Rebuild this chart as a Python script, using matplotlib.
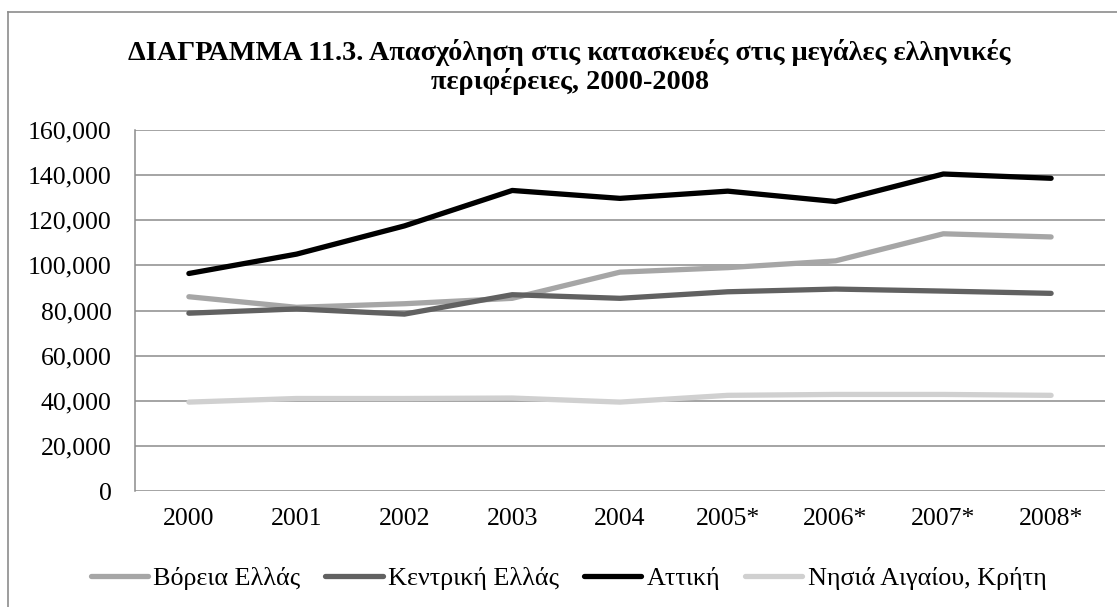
import matplotlib
matplotlib.use("Agg")
import matplotlib.pyplot as plt
from matplotlib.lines import Line2D
from matplotlib.ticker import FuncFormatter

plt.rcParams['font.family'] = ['Liberation Serif', 'DejaVu Serif']

years = ["2000", "2001", "2002", "2003", "2004", "2005*", "2006*", "2007*", "2008*"]
voreia = [86100, 81400, 83000, 85400, 97000, 99000, 102000, 114000, 112600]
kentriki = [78800, 80700, 78400, 87000, 85400, 88300, 89500, 88600, 87600]
attiki = [96400, 105000, 117500, 133200, 129700, 132900, 128300, 140500, 138600]
nisia = [39400, 41000, 41000, 41200, 39400, 42400, 42800, 42800, 42400]

series_names = ["Βόρεια Ελλάς", "Κεντρική Ελλάς", "Αττική", "Νησιά Αιγαίου, Κρήτη"]
series_vals = [voreia, kentriki, attiki, nisia]
colors = ["#a6a6a6", "#616161", "#000000", "#d0d0d0"]

W, H = 1117, 607
fig = plt.figure(figsize=(W / 100, H / 100), dpi=100)
ax = fig.add_axes([135 / W, 1 - 491 / H, (1105 - 135) / W, (491 - 130) / H])

x = list(range(len(years)))
handles = []
for name, vals, c in zip(series_names, series_vals, colors):
    ln, = ax.plot(x, vals, color=c, lw=3.8, solid_capstyle='round',
                  solid_joinstyle='round', label=name, zorder=3)
    handles.append(ln)

ax.set_xlim(-0.5, len(years) - 0.5)
ax.set_ylim(0, 160000)
ax.set_yticks(range(0, 160001, 20000))
ax.yaxis.set_major_formatter(FuncFormatter(lambda v, p: f"{int(v):,}"))
ax.set_xticks(x)
ax.set_xticklabels(years)
ax.grid(axis='y', color='#8c8c8c', lw=1.1)
ax.set_axisbelow(True)
for s in ['top', 'right', 'bottom']:
    ax.spines[s].set_visible(False)
ax.spines['left'].set_color('#8c8c8c')
ax.spines['left'].set_linewidth(1.1)
ax.tick_params(axis='both', length=0, labelsize=18.5, colors='black')
ax.tick_params(axis='y', pad=17)
ax.tick_params(axis='x', pad=12)

fig.text(0.51, 1 - 67 / H,
         "ΔΙΑΓΡΑΜΜΑ 11.3. Απασχόληση στις κατασκευές στις μεγάλες ελληνικές\nπεριφέρειες, 2000-2008",
         ha='center', va='center', fontsize=20.3, fontweight='bold', linespacing=1.08)

leg = fig.legend(handles=handles, loc='center', bbox_to_anchor=(0.5 + 10 / W, 1 - 578 / H),
                 ncol=4, frameon=False, fontsize=18.8, handlelength=2.2,
                 handletextpad=0.2, columnspacing=0.95)

# outer frame
fig.add_artist(Line2D([8 / W, 8 / W], [0, 1 - 12 / H], transform=fig.transFigure,
                      color='#8c8c8c', lw=1.2))
fig.add_artist(Line2D([8 / W, 1], [1 - 12 / H, 1 - 12 / H], transform=fig.transFigure,
                      color='#8c8c8c', lw=1.2))

fig.savefig("out.png", dpi=100)
